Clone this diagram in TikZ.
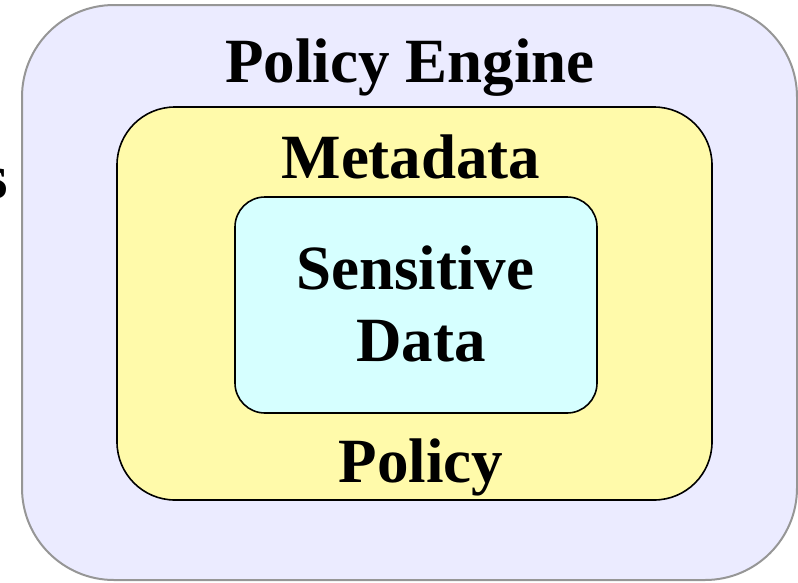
\documentclass[tikz,border=0pt]{standalone}
\usepackage{fontspec}
\setmainfont{Liberation Serif}
\begin{document}
\begin{tikzpicture}[x=1pt,y=-1pt,
  lbl/.style={font=\fontsize{63}{70}\selectfont\bfseries, anchor=base, inner sep=0pt, align=center}]
\useasboundingbox (0,0) rectangle (798,582);
\begin{scope}
\clip (0,0) rectangle (798,582);
\filldraw[fill={rgb,255:red,235;green,235;blue,255}, draw={rgb,255:red,150;green,150;blue,150}, line width=2pt, rounded corners=92pt]
  (22,5) rectangle (797,580);
\node[lbl, anchor=base east] (sfrag) at (8,198) {s};
\end{scope}
\filldraw[fill={rgb,255:red,255;green,250;blue,170}, draw=black, line width=1.6pt, rounded corners=58pt]
  (117,107) rectangle (712,500);
\filldraw[fill={rgb,255:red,214;green,255;blue,255}, draw=black, line width=1.6pt, rounded corners=30pt]
  (235,197) rectangle (597,413);
\node[lbl] (pe) at (410,82) {Policy Engine};
\node[lbl] (md) at (411,178) {Metadata};
\node[lbl] (sd1) at (415,289) {Sensitive};
\node[lbl] (sd2) at (421,361) {Data};
\node[lbl] (pol) at (421,482) {Policy};
\end{tikzpicture}
\end{document}
